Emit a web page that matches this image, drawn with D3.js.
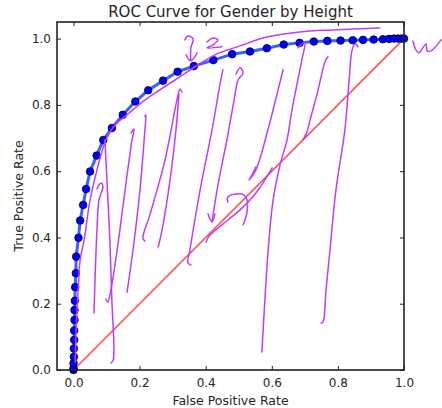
<!DOCTYPE html>
<html>
<head>
<meta charset="utf-8">
<script src="https://cdn.jsdelivr.net/npm/d3@7"></script>
<style>
  body { margin: 0; background: #fff; }
  text { font-family: "DejaVu Sans", sans-serif; fill: #262626; }
</style>
</head>
<body>
<svg id="chart" width="442" height="408"></svg>
<script>
// ROC points
const fpr = [0, 0, 0, 0.001, 0.001, 0.002, 0.002, 0.003, 0.003, 0.004, 0.005, 0.007, 0.008,
  0.015, 0.020, 0.029, 0.038, 0.050, 0.070, 0.090, 0.116, 0.149, 0.187, 0.226, 0.271, 0.315,
  0.364, 0.423, 0.480, 0.534, 0.585, 0.636, 0.684, 0.727, 0.768, 0.808, 0.845, 0.876, 0.908,
  0.936, 0.955, 0.970, 0.982, 0.992, 1.0];
const tpr = [0, 0.005, 0.020, 0.040, 0.065, 0.091, 0.119, 0.151, 0.181, 0.209, 0.250, 0.292, 0.342,
  0.399, 0.451, 0.498, 0.546, 0.599, 0.647, 0.694, 0.730, 0.770, 0.810, 0.844, 0.873, 0.900,
  0.917, 0.935, 0.953, 0.961, 0.971, 0.982, 0.987, 0.991, 0.993, 0.994, 0.995, 0.996, 0.997,
  0.998, 0.999, 1.0, 1.0, 1.0, 1.0];
const chance = [[0, 0], [1, 1]];
const xTicks = [0, 0.2, 0.4, 0.6, 0.8, 1.0];
const yTicks = [0, 0.2, 0.4, 0.6, 0.8, 1.0];

// hand-drawn pen marks on top of the plot, in (fpr, tpr) units
const inkCurve = [[0.005,0.024],[0.008,0.121],[0.014,0.241],[0.020,0.332],[0.032,0.392],[0.050,0.513],
  [0.071,0.604],[0.098,0.694],[0.126,0.740],[0.162,0.770],[0.201,0.803],[0.247,0.836],[0.307,0.875],
  [0.368,0.915],[0.428,0.951],[0.504,0.978],[0.585,1.005],[0.685,1.020],[0.785,1.026],[0.927,1.032]];
const inkStrokes = [
  [[0.071,0.546],[0.083,0.564],[0.089,0.552],[0.077,0.513],[0.071,0.423],[0.065,0.272],[0.062,0.172]],
  [[0.095,0.694],[0.101,0.573],[0.110,0.392],[0.116,0.211],[0.120,0.030],[0.113,0.021]],
  [[0.174,0.715],[0.183,0.727],[0.177,0.694],[0.156,0.543],[0.132,0.362],[0.113,0.241],[0.104,0.205],[0.098,0.214]],
  [[0.216,0.764],[0.219,0.770],[0.216,0.724],[0.201,0.543],[0.180,0.362],[0.162,0.235]],
  [[0.328,0.839],[0.322,0.848],[0.313,0.815],[0.277,0.634],[0.231,0.468],[0.210,0.398],[0.216,0.389]],
  [[0.319,0.833],[0.310,0.724],[0.292,0.573],[0.268,0.423],[0.256,0.371]],
  [[0.452,0.906],[0.443,0.860],[0.419,0.724],[0.383,0.543],[0.352,0.362],[0.346,0.323],[0.355,0.317]],
  [[0.492,0.893],[0.504,0.912],[0.513,0.896],[0.498,0.875],[0.486,0.815],[0.464,0.694],[0.437,0.558],[0.419,0.447]],
  [[0.407,0.471],[0.419,0.447],[0.428,0.471]],
  [[0.634,0.906],[0.619,0.845],[0.588,0.724],[0.552,0.604],[0.531,0.573],[0.540,0.589],[0.552,0.613]],
  [[0.679,0.972],[0.700,0.990],[0.691,0.936],[0.661,0.785],[0.646,0.694],[0.625,0.619],[0.604,0.513],
   [0.589,0.362],[0.579,0.211],[0.570,0.054]],
  [[0.770,0.945],[0.761,0.930],[0.740,0.845],[0.716,0.755],[0.703,0.709],[0.694,0.694],[0.703,0.712]],
  [[0.861,0.975],[0.852,0.984],[0.843,0.966],[0.834,0.875],[0.821,0.724],[0.794,0.543],[0.776,0.362],
   [0.764,0.241],[0.755,0.145],[0.749,0.142]],
  [[0.401,0.386],[0.410,0.404],[0.449,0.438],[0.504,0.483],[0.552,0.534],[0.601,0.610]],
  [[0.467,0.507],[0.467,0.522],[0.492,0.531],[0.516,0.528],[0.525,0.513],[0.525,0.477],[0.519,0.453],[0.513,0.438]],
  [[1.027,0.993],[1.036,0.966],[1.045,0.957],[1.057,0.972],[1.067,0.984],[1.070,0.963],[1.082,0.963],[1.112,0.996]],
  [[0.337,0.996],[0.346,1.008],[0.362,0.999],[0.355,0.972],[0.355,0.933]],
  [[0.340,0.951],[0.355,0.933],[0.374,0.957]],
  [[0.404,0.990],[0.422,1.002],[0.437,0.996],[0.422,0.981],[0.404,0.972],[0.449,0.975]]
];

const svg = d3.select("#chart");
const margin = { top: 22, right: 38, bottom: 38, left: 57 };
const width = 442, height = 408;

const x = d3.scaleLinear().domain([-0.05, 1.0]).range([margin.left, width - margin.right]);
const y = d3.scaleLinear().domain([0, 1.05]).range([height - margin.bottom, margin.top]);

const pw = x.range()[1] - x.range()[0];
const ph = y.range()[0] - y.range()[1];

// axes: classic matplotlib, ticks pointing inward on all four sides
const fmt = d3.format(".1f");
const axB = svg.append("g").attr("transform", `translate(0,${y(0)})`)
  .call(d3.axisBottom(x).tickValues(xTicks).tickFormat(fmt).tickSizeInner(-4).tickSizeOuter(0).tickPadding(8));
const axT = svg.append("g").attr("transform", `translate(0,${y(1.05)})`)
  .call(d3.axisTop(x).tickValues(xTicks).tickFormat("").tickSizeInner(-4).tickSizeOuter(0));
const axL = svg.append("g").attr("transform", `translate(${x(-0.05)},0)`)
  .call(d3.axisLeft(y).tickValues(yTicks).tickFormat(fmt).tickSizeInner(-4).tickSizeOuter(0).tickPadding(6));
const axR = svg.append("g").attr("transform", `translate(${x(1.0)},0)`)
  .call(d3.axisRight(y).tickValues(yTicks).tickFormat("").tickSizeInner(-4).tickSizeOuter(0));
[axB, axT, axL, axR].forEach(g => {
  g.select(".domain").remove();
  g.selectAll(".tick line").attr("stroke", "#222").attr("stroke-width", 1);
  g.selectAll(".tick text").style("font-size", "12px").attr("fill", "#262626");
});

// red chance line
const line = d3.line().x(d => x(d[0])).y(d => y(d[1]));
svg.append("path").datum(chance).attr("d", line)
  .attr("fill", "none").attr("stroke", "#ff5050").attr("stroke-width", 1.6);

// ROC curve
const pts = fpr.map((f, i) => [f, tpr[i]]);
svg.append("path").datum(pts).attr("d", line)
  .attr("fill", "none").attr("stroke", "#3f5fff").attr("stroke-width", 3);
svg.selectAll("circle.roc").data(pts).join("circle").attr("class", "roc")
  .attr("cx", d => x(d[0])).attr("cy", d => y(d[1])).attr("r", 3.8)
  .attr("fill", "#0000ff").attr("stroke", "#00002a").attr("stroke-width", 0.8);

// frame
svg.append("rect").attr("x", x(-0.05)).attr("y", y(1.05)).attr("width", pw).attr("height", ph)
  .attr("fill", "none").attr("stroke", "#222").attr("stroke-width", 1.6);

// pen marks
const ink = d3.line().x(d => x(d[0])).y(d => y(d[1])).curve(d3.curveCatmullRom);
[inkCurve, ...inkStrokes].forEach(s => {
  svg.append("path").datum(s).attr("d", ink)
    .attr("fill", "none").attr("stroke", "#bf3cff").attr("stroke-width", 1.5)
    .attr("stroke-linecap", "round").attr("stroke-linejoin", "round");
});

// title and axis labels
svg.append("text").attr("x", (x.range()[0] + x.range()[1]) / 2).attr("y", 16.5)
  .attr("text-anchor", "middle").style("font-size", "15px").text("ROC Curve for Gender by Height");
svg.append("text").attr("x", (x.range()[0] + x.range()[1]) / 2).attr("y", 405)
  .attr("text-anchor", "middle").style("font-size", "12.5px").text("False Positive Rate");
svg.append("text").attr("transform", `translate(23,${(y.range()[0] + y.range()[1]) / 2}) rotate(-90)`)
  .attr("text-anchor", "middle").style("font-size", "12.5px").text("True Positive Rate");
</script>
</body>
</html>
